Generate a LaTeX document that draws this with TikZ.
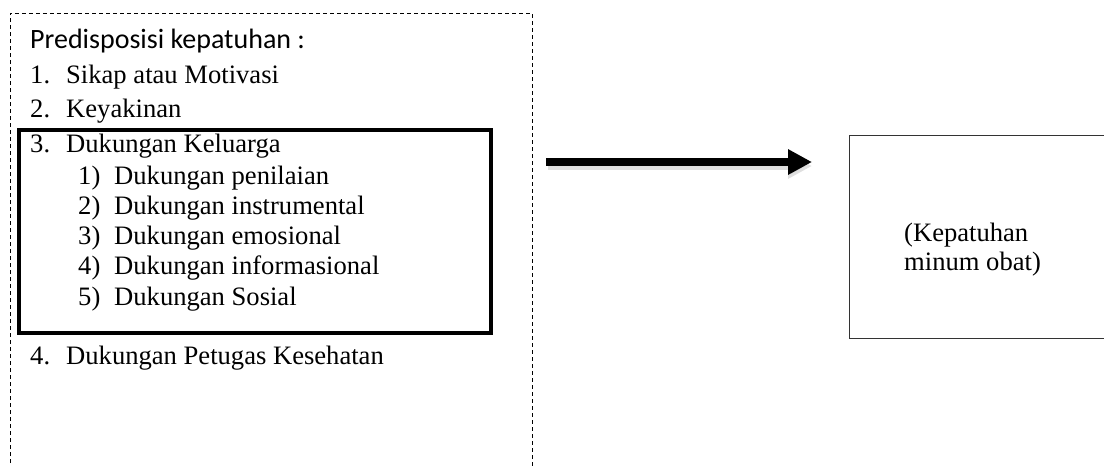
\documentclass[tikz,border=0pt]{standalone}
\usepackage{fontspec}
\setmainfont{Liberation Serif}
\newfontfamily\headfont{Carlito}
\usetikzlibrary{arrows.meta}
\tikzset{
  txt/.style={anchor=base west, inner sep=0pt, font=\fontsize{26.6}{31}\selectfont},
  head/.style={anchor=base west, inner sep=0pt, font=\headfont\fontsize{28}{32}\selectfont},
  dashbox/.style={draw=black, line width=0.9pt, dash pattern=on 4pt off 3pt},
  thickbox/.style={draw=black, line width=4.5pt},
  outbox/.style={draw=black!80, line width=1.2pt},
  bigarrow/.style={line width=8.5pt, -{Triangle[length=24pt,width=24pt]}},
}
\begin{document}
\begin{tikzpicture}[x=1pt,y=-1pt]
\useasboundingbox (0,0) rectangle (1104,466);
% dashed outer frame (open at the bottom)
\coordinate (d1) at (10,470);
\coordinate (d2) at (10,13);
\coordinate (d3) at (532,13);
\coordinate (d4) at (532,470);
\draw[dashbox] (d1) -- (d2) -- (d3) -- (d4);
% thick family-support box
\draw[thickbox] (19,130) rectangle (491,333);
% texts
\node[head] (hd) at (30,48) {Predisposisi kepatuhan :};
\node[txt] (n1) at (30,83) {1.};   \node[txt] (t1) at (66,83) {Sikap atau Motivasi};
\node[txt] (n2) at (30,117) {2.};  \node[txt] (t2) at (66,117) {Keyakinan};
\node[txt] (n3) at (30,152) {3.};  \node[txt] (t3) at (66,152) {Dukungan Keluarga};
\node[txt] (s1) at (78,184) {1)};  \node[txt] (u1) at (114,184) {Dukungan penilaian};
\node[txt] (s2) at (78,214) {2)};  \node[txt] (u2) at (114,214) {Dukungan instrumental};
\node[txt] (s3) at (78,244) {3)};  \node[txt] (u3) at (114,244) {Dukungan emosional};
\node[txt] (s4) at (78,274) {4)};  \node[txt] (u4) at (114,274) {Dukungan informasional};
\node[txt] (s5) at (78,305) {5)};  \node[txt] (u5) at (114,305) {Dukungan Sosial};
\node[txt] (n4) at (30,364) {4.};  \node[txt] (t4) at (66,364) {Dukungan Petugas Kesehatan};
% output box
\node[outbox, draw, minimum width=300pt, minimum height=203pt, anchor=north west, inner sep=0pt] (out) at (849,135) {};
\node[txt] (ot1) at (904,241) {(Kepatuhan};
\node[txt] (ot2) at (904,270) {minum obat)};
% arrow
\coordinate (a1) at (546,162);
\coordinate (a2) at (812,162);
\coordinate (b1) at (548,166);
\coordinate (b2) at (812,166);
\draw[bigarrow, draw=black!25, fill=black!25, opacity=0.5] (b1) -- (b2);
\draw[bigarrow] (a1) -- (a2);
\end{tikzpicture}
\end{document}
